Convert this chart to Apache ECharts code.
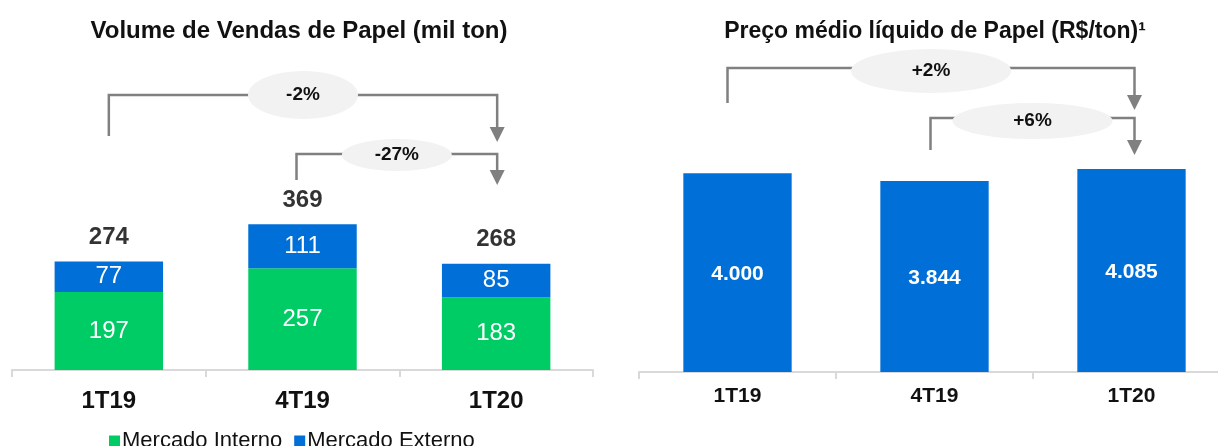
<!DOCTYPE html>
<html>
<head>
<meta charset="utf-8">
<script src="https://cdn.jsdelivr.net/npm/echarts@6/dist/echarts.min.js"></script>
<style>
  html, body { margin: 0; padding: 0; background: #fff; overflow: hidden; }
  #chart { width: 1232px; height: 446px; }
</style>
</head>
<body>
<div id="chart"></div>
<script>
// Quarters shown on both panels
const categories = ['1T19', '4T19', '1T20'];

// Sales volume (thousand tons)
const mercadoInterno = [197, 257, 183];
const mercadoExterno = [77, 111, 85];
const volumeTotal = [274, 369, 268];

// Average net price (R$/ton)
const precoMedio = [4000, 3844, 4085];

// Change brackets drawn above the bars: [from index, to index, text]
const volumeChanges = [[0, 2, '-2%'], [1, 2, '-27%']];
const precoChanges = [[0, 2, '+2%'], [1, 2, '+6%']];

const FONT = '"Liberation Sans", Arial, Helvetica, sans-serif';
const GREEN = '#00CC66';
const BLUE = '#0070D8';
const AXIS_GRAY = '#D9D9D9';
const ARROW_GRAY = '#808080';

function fmtBR(v) {
  return String(v).replace(/\B(?=(\d{3})+(?!\d))/g, '.');
}

const chart = echarts.init(document.getElementById('chart'), null, { renderer: 'canvas' });

const option = {
  animation: false,
  backgroundColor: '#fff',
  textStyle: { fontFamily: FONT },
  title: [
    {
      text: 'Volume de Vendas de Papel (mil ton)',
      left: 294, top: 14, textAlign: 'center',
      textStyle: { fontFamily: FONT, fontSize: 24, fontWeight: 'bold', color: '#111' }
    },
    {
      text: 'Preço médio líquido de Papel (R$/ton)¹',
      left: 930, top: 15, textAlign: 'center',
      textStyle: { fontFamily: FONT, fontSize: 23, fontWeight: 'bold', color: '#111' }
    }
  ],
  legend: {
    data: ['Mercado Interno', 'Mercado Externo'],
    left: 104, top: 425,
    icon: 'rect', itemWidth: 11, itemHeight: 11, itemGap: 12,
    textStyle: { fontFamily: FONT, fontSize: 22, color: '#111', padding: [0, 0, 0, -3] }
  },
  grid: [
    { left: 12, width: 581, top: 172, height: 198 },
    { left: 639, width: 591, top: 74, height: 298 }
  ],
  xAxis: [
    {
      type: 'category', gridIndex: 0, data: categories,
      axisLine: { lineStyle: { color: AXIS_GRAY, width: 2 } },
      axisTick: { show: true, length: 7, lineStyle: { color: AXIS_GRAY, width: 2 } },
      axisLabel: { fontFamily: FONT, fontSize: 24, fontWeight: 'bold', color: '#111', margin: 19 }
    },
    {
      type: 'category', gridIndex: 1, data: categories,
      axisLine: { lineStyle: { color: AXIS_GRAY, width: 2 } },
      axisTick: { show: true, length: 7, lineStyle: { color: AXIS_GRAY, width: 2 } },
      axisLabel: { fontFamily: FONT, fontSize: 21, fontWeight: 'bold', color: '#111', margin: 14 }
    }
  ],
  yAxis: [
    { type: 'value', gridIndex: 0, min: 0, max: 500, show: false, splitLine: { show: false } },
    { type: 'value', gridIndex: 1, min: 0, max: 6000, show: false, splitLine: { show: false } }
  ],
  series: [
    {
      name: 'Mercado Interno', type: 'bar', stack: 'vol',
      xAxisIndex: 0, yAxisIndex: 0, data: mercadoInterno,
      barCategoryGap: '44%',
      itemStyle: { color: GREEN },
      label: { show: true, position: 'inside', color: '#fff', fontFamily: FONT, fontSize: 24 }
    },
    {
      name: 'Mercado Externo', type: 'bar', stack: 'vol',
      xAxisIndex: 0, yAxisIndex: 0, data: mercadoExterno,
      barCategoryGap: '44%',
      itemStyle: { color: BLUE },
      label: { show: true, position: 'inside', color: '#fff', fontFamily: FONT, fontSize: 24 }
    },
    {
      name: 'Total', type: 'scatter',
      xAxisIndex: 0, yAxisIndex: 0, data: volumeTotal,
      symbolSize: 0, silent: true,
      label: {
        show: true, position: 'top', distance: 12,
        color: '#000', fontFamily: FONT, fontSize: 24, fontWeight: 'bold'
      }
    },
    {
      name: 'Preço médio', type: 'bar',
      xAxisIndex: 1, yAxisIndex: 1, data: precoMedio,
      barCategoryGap: '45%',
      itemStyle: { color: BLUE },
      label: {
        show: true, position: 'inside', offset: [0, 2],
        color: '#fff', fontFamily: FONT, fontSize: 21, fontWeight: 'bold',
        formatter: p => fmtBR(p.value)
      }
    }
  ]
};

chart.setOption(option);

// Bracket arrows with the percentage bubble, placed from the axis positions
function bracket(axisIndex, change, layout) {
  const [from, to, text] = change;
  const x1 = chart.convertToPixel({ xAxisIndex: axisIndex }, from) + layout.dx1;
  const x2 = chart.convertToPixel({ xAxisIndex: axisIndex }, to) + layout.dx2;
  const y = layout.y;
  const tipY = layout.tip;
  const head = 15;
  const cx = (x1 + x2) / 2;
  return [
    {
      type: 'polyline', silent: true,
      shape: { points: [[x1, layout.start], [x1, y], [x2, y], [x2, tipY - head + 1]] },
      style: { stroke: ARROW_GRAY, lineWidth: 2.5, fill: null }
    },
    {
      type: 'polygon', silent: true,
      shape: { points: [[x2 - 7.5, tipY - head], [x2 + 7.5, tipY - head], [x2, tipY]] },
      style: { fill: ARROW_GRAY }
    },
    {
      type: 'circle', silent: true,
      x: cx, y: layout.ey, scaleX: layout.rx / layout.ry,
      shape: { cx: 0, cy: 0, r: layout.ry },
      style: { fill: '#F2F2F2' }
    },
    {
      type: 'text', silent: true,
      x: cx, y: layout.ey,
      style: {
        text: text, fill: '#111', font: 'bold 19px ' + FONT,
        align: 'center', verticalAlign: 'middle'
      }
    }
  ];
}

const graphics = [].concat(
  bracket(0, volumeChanges[0], { dx1: 0, dx2: 1, y: 95, start: 136, tip: 142, ey: 95, rx: 55, ry: 24 }),
  bracket(0, volumeChanges[1], { dx1: -6, dx2: 1, y: 154, start: 180, tip: 185, ey: 155, rx: 55, ry: 16 }),
  bracket(1, precoChanges[0], { dx1: -10, dx2: 3, y: 68, start: 103, tip: 110, ey: 71, rx: 80, ry: 22 }),
  bracket(1, precoChanges[1], { dx1: -4, dx2: 3, y: 118, start: 150, tip: 155, ey: 121, rx: 80, ry: 18 })
);

chart.setOption({ graphic: graphics });
</script>
</body>
</html>
